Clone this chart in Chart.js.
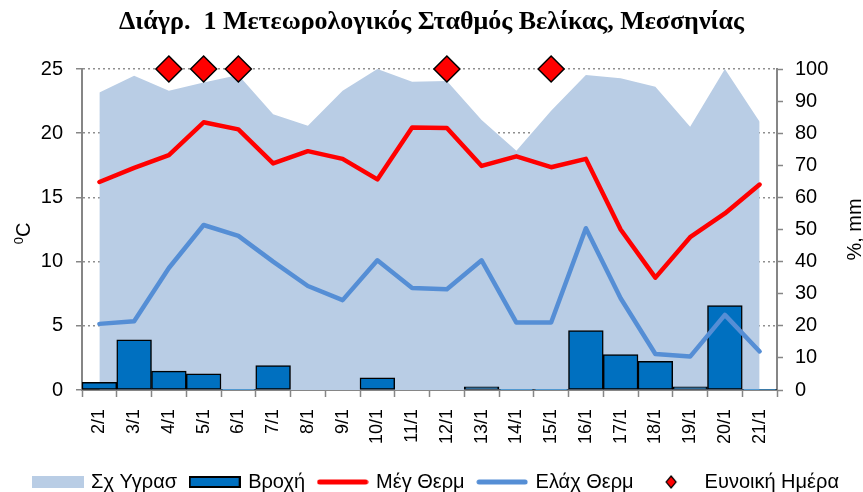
<!DOCTYPE html>
<html><head><meta charset="utf-8">
<script src="https://cdn.jsdelivr.net/npm/chart.js@4"></script>
<style>html,body{margin:0;padding:0;background:#fff}#wrap{width:863px;height:492px;overflow:hidden}</style>
</head><body><div id="wrap"><canvas id="c" width="863" height="492"></canvas></div>
<script>
const categories = ['2/1','3/1','4/1','5/1','6/1','7/1','8/1','9/1','10/1','11/1','12/1','13/1','14/1','15/1','16/1','17/1','18/1','19/1','20/1','21/1'];
const humidity = [92.7, 97.9, 93.2, 95.8, 98.1, 85.9, 82.3, 93.2, 100, 96.0, 96.3, 84.1, 74.5, 87.0, 98.1, 97.1, 94.5, 82.0, 100, 83.6];
const rain = [2.4, 15.6, 5.9, 5.0, 0.2, 7.6, 0, 0, 3.8, 0, 0, 1.0, 0.2, 0.2, 18.5, 11.0, 8.9, 1.0, 26.3, 0.2];
const maxTemp = [16.2, 17.3, 18.3, 20.85, 20.3, 17.65, 18.6, 18.0, 16.4, 20.45, 20.4, 17.45, 18.2, 17.35, 18.0, 12.5, 8.75, 11.9, 13.75, 16.0];
const minTemp = [5.15, 5.35, 9.5, 12.85, 12.0, 10.0, 8.1, 7.0, 10.1, 7.95, 7.85, 10.1, 5.25, 5.25, 12.6, 7.15, 2.8, 2.6, 5.85, 3.0];
const favourableDay = [null, null, 100, 100, 100, null, null, null, null, null, 100, null, null, 100, null, null, null, null, null, null];
const seriesNames = ['Σχ Υγρασ', 'Βροχή', 'Μέγ Θερμ', 'Ελάχ Θερμ', 'Ευνοική Ημέρα'];
const titleText = 'Διάγρ.  1 Μετεωρολογικός Σταθμός Βελίκας, Μεσσηνίας';
const leftAxisTitle = ['0', 'C'];
const rightAxisTitle = '%, mm';

const FONT = '"Liberation Sans", Arial, sans-serif';
const AXIS = '#868686';

function swatch(draw) {
  const c = document.createElement('canvas');
  c.width = 52; c.height = 16;
  draw(c.getContext('2d'));
  return c;
}
const swatches = [
  swatch(g => { g.fillStyle = '#B9CDE5'; g.fillRect(0, 2, 52, 12); }),
  swatch(g => { g.fillStyle = '#0070C0'; g.fillRect(1, 3, 50, 10); g.strokeStyle = '#000'; g.lineWidth = 2; g.strokeRect(1, 3, 50, 10); }),
  swatch(g => { g.strokeStyle = '#FF0000'; g.lineWidth = 5; g.lineCap = 'round'; g.beginPath(); g.moveTo(3, 8); g.lineTo(49, 8); g.stroke(); }),
  swatch(g => { g.strokeStyle = '#558ED5'; g.lineWidth = 5; g.lineCap = 'round'; g.beginPath(); g.moveTo(3, 8); g.lineTo(49, 8); g.stroke(); }),
  swatch(g => { g.fillStyle = '#FF0000'; g.strokeStyle = '#000'; g.lineWidth = 1.2; g.beginPath(); g.moveTo(26, 2); g.lineTo(31, 8); g.lineTo(26, 14); g.lineTo(21, 8); g.closePath(); g.fill(); g.stroke(); })
];

const axisTitles = {
  id: 'axisTitles',
  afterDraw(chart) {
    const ctx = chart.ctx, a = chart.chartArea;
    const cy = (a.top + a.bottom) / 2;
    ctx.save();
    ctx.fillStyle = '#000';
    ctx.textBaseline = 'alphabetic';
    ctx.translate(30, cy + 4);
    ctx.rotate(-Math.PI / 2);
    ctx.font = '13px ' + FONT;
    const w0 = ctx.measureText(leftAxisTitle[0]).width;
    ctx.font = '20px ' + FONT;
    const w1 = ctx.measureText(leftAxisTitle[1]).width;
    const start = -(w0 + w1) / 2;
    ctx.font = '13px ' + FONT;
    ctx.fillText(leftAxisTitle[0], start, -7);
    ctx.font = '20px ' + FONT;
    ctx.fillText(leftAxisTitle[1], start + w0, 0);
    ctx.restore();
    ctx.save();
    ctx.fillStyle = '#000';
    ctx.translate(861, cy);
    ctx.rotate(-Math.PI / 2);
    ctx.font = '20px ' + FONT;
    ctx.textAlign = 'center';
    ctx.textBaseline = 'alphabetic';
    ctx.fillText(rightAxisTitle, 0, 0);
    ctx.restore();
  }
};

const legendShift = {
  id: 'legendShift',
  afterLayout(chart) {
    const L = chart.legend;
    if (!L) return;
    L.top += 10; L.bottom += 10;
    L.left += 5; L.right += 5;
  }
};

const whiteBg = {
  id: 'whiteBg',
  beforeDraw(chart) { const c = chart.ctx; c.save(); c.fillStyle = '#fff'; c.fillRect(0, 0, chart.width, chart.height); c.restore(); }
};

new Chart(document.getElementById('c'), {
  data: {
    labels: categories,
    datasets: [
      { type: 'line', label: seriesNames[0], data: humidity, yAxisID: 'y1', fill: 'origin', backgroundColor: '#B9CDE5', borderWidth: 0, borderColor: 'rgba(0,0,0,0)', pointRadius: 0, tension: 0, order: 5 },
      { type: 'bar', label: seriesNames[1], data: rain, yAxisID: 'y1', backgroundColor: '#0070C0', borderColor: '#000', borderWidth: 1.5, borderSkipped: false, barPercentage: 1, categoryPercentage: 1, order: 4 },
      { type: 'line', label: seriesNames[2], data: maxTemp, yAxisID: 'y', borderColor: '#FF0000', borderWidth: 4.5, pointRadius: 0, tension: 0, fill: false, borderCapStyle: 'round', borderJoinStyle: 'round', order: 3 },
      { type: 'line', label: seriesNames[3], data: minTemp, yAxisID: 'y', borderColor: '#558ED5', borderWidth: 4.5, pointRadius: 0, tension: 0, fill: false, borderCapStyle: 'round', borderJoinStyle: 'round', order: 2 },
      { type: 'line', label: seriesNames[4], data: favourableDay, yAxisID: 'y1', showLine: false, pointStyle: 'rectRot', pointRadius: 13, pointBackgroundColor: '#FF0000', pointBorderColor: '#000', pointBorderWidth: 1.5, backgroundColor: '#FF0000', borderColor: '#000', clip: false, order: 1 }
    ]
  },
  options: {
    responsive: false,
    animation: false,
    events: [],
    layout: { padding: 0 },
    plugins: {
      title: { display: true, text: titleText, color: '#000', font: { family: '"Liberation Serif", "Times New Roman", serif', size: 26, weight: 'bold', lineHeight: 1.2 }, padding: { top: 6.4, bottom: 31.4 } },
      legend: {
        position: 'bottom',
        labels: {
          usePointStyle: true, pointStyleWidth: 47, boxHeight: 20, padding: 14, color: '#000',
          font: { family: FONT, size: 20 },
          generateLabels: (chart) => chart.data.datasets.map((ds, i) => ({
            text: ds.label, pointStyle: swatches[i], fillStyle: 'rgba(0,0,0,0)', strokeStyle: 'rgba(0,0,0,0)', lineWidth: 0, hidden: false, datasetIndex: i, fontColor: '#000'
          }))
        }
      },
      tooltip: { enabled: false }
    },
    scales: {
      x: {
        type: 'category', offset: true,
        grid: { offset: true, drawOnChartArea: false, drawTicks: true, tickLength: 7, tickColor: AXIS, tickWidth: 1.5, color: AXIS },
        border: { color: AXIS, width: 2 },
        ticks: { maxRotation: 90, minRotation: 90, autoSkip: false, font: { family: FONT, size: 18 }, color: '#000', padding: 12 },
        afterFit: s => { s.height = 58; }
      },
      y: {
        position: 'left', min: 0, max: 25,
        ticks: { stepSize: 5, font: { family: FONT, size: 20 }, color: '#000', padding: 13 },
        grid: { color: '#8f8f8f', lineWidth: 1.5, tickLength: 6, tickColor: AXIS, tickWidth: 1.5, tickBorderDash: [] },
        border: { color: AXIS, width: 2, dash: [2, 3] },
        afterFit: s => { s.width = 82; }
      },
      y1: {
        position: 'right', min: 0, max: 100,
        ticks: { stepSize: 10, font: { family: FONT, size: 20 }, color: '#000', padding: 12 },
        grid: { drawOnChartArea: false, tickLength: 6, tickColor: AXIS, tickWidth: 1.5, color: AXIS },
        border: { color: AXIS, width: 2 },
        afterFit: s => { s.width = 86; }
      }
    }
  },
  plugins: [whiteBg, axisTitles, legendShift]
});
</script>
</body></html>
